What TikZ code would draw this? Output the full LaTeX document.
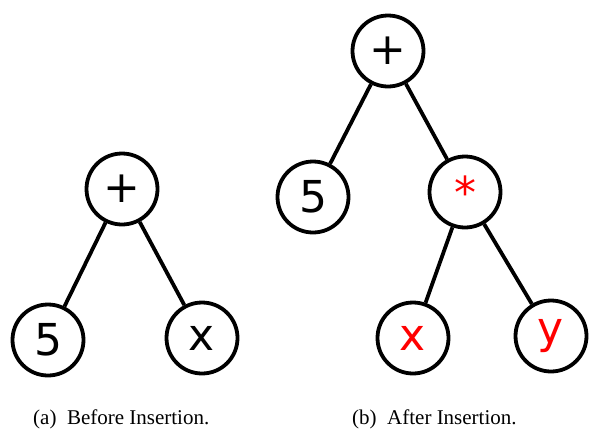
\documentclass[tikz,border=0pt]{standalone}
\usepackage{fontspec}
\setmainfont{Liberation Serif}
\newfontfamily\nodefont{DejaVu Sans}
\begin{document}
\begin{tikzpicture}[x=1pt,y=-1pt,
  tn/.style={circle,draw=black,line width=3.8pt,minimum size=71pt,inner sep=0pt,font=\nodefont\fontsize{44}{44}\selectfont},
  rd/.style={text=red},
  edge/.style={line width=3.8pt,black},
  captext/.style={font=\fontsize{21}{24}\selectfont,anchor=base west,inner sep=0pt}]
\useasboundingbox (0,0) rectangle (593,429);
% left tree
\node[tn] (ap) at (122,189) {+};
\node[tn] (a5) at (48,340) {5};
\node[tn] (ax) at (202,338) {x};
\draw[edge] (ap) -- (a5);
\draw[edge] (ap) -- (ax);
% right tree
\node[tn] (bp) at (388,51) {+};
\node[tn] (b5) at (313,197) {5};
\node[tn,rd] (bs) at (465,192) {*};
\node[tn,rd] (bx) at (413,338) {x};
\node[tn,rd] (by) at (551,336) {y};
\draw[edge] (bp) -- (b5);
\draw[edge] (bp) -- (bs);
\draw[edge] (bs) -- (bx);
\draw[edge] (bs) -- (by);
% captions
\node[captext] (ca) at (33,424) {(a)\ \ Before Insertion.};
\node[captext] (cb) at (352,424) {(b)\ \ After Insertion.};
\end{tikzpicture}
\end{document}
